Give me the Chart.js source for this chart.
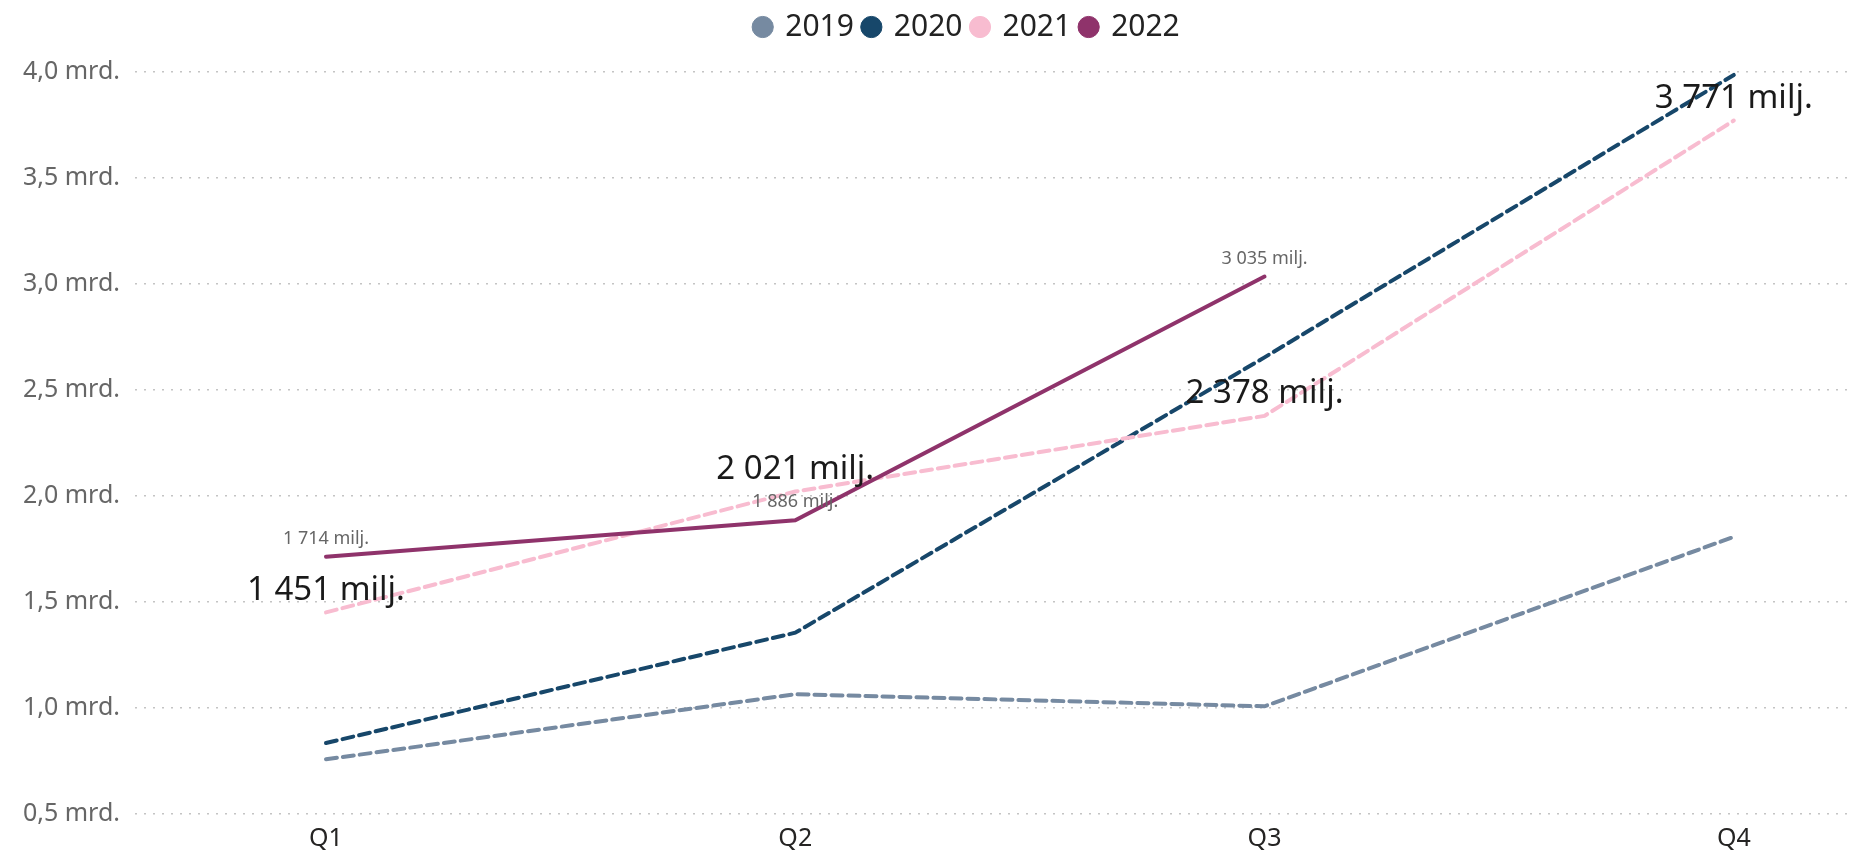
<!DOCTYPE html>
<html>
<head>
<meta charset="utf-8">
<script src="https://cdn.jsdelivr.net/npm/chart.js@4/dist/chart.umd.min.js"></script>
<style>
  html, body { margin: 0; padding: 0; background: #fff; }
  #wrap { width: 1855px; height: 856px; }
</style>
</head>
<body>
<div id="wrap"><canvas id="salesChart" width="1855" height="856"></canvas></div>
<script>
// Kvartaler og verdier (millioner)
const quarters = ['Q1', 'Q2', 'Q3', 'Q4'];
const years = ['2019', '2020', '2021', '2022'];
const values2019 = [758, 1065, 1008, 1807];
const values2020 = [835, 1355, 2654, 3986];
const values2021 = [1451, 2021, 2378, 3771];
const values2022 = [1714, 1886, 3035, null];
const yTicks = [500, 1000, 1500, 2000, 2500, 3000, 3500, 4000];

const colors = ['#768aa1', '#17476a', '#f8bcd0', '#8f336b'];
const fontName = 'Noto Sans';

const fmtMilj = v => String(Math.round(v)).replace(/\B(?=(\d{3})+(?!\d))/g, ' ') + ' milj.';
const fmtMrd = v => (v / 1000).toFixed(1).replace('.', ',') + ' mrd.';

const toPoints = arr => arr.map((v, i) => ({ x: i, y: v }));

// Etiketter for 2021 og 2022
const labelPlugin = {
  id: 'pointLabels',
  afterDatasetsDraw(chart) {
    const ctx = chart.ctx;
    const styles = {
      2: { font: '33px "' + fontName + '"', color: '#1a1a1a', offset: 22 },
      3: { font: '18px "' + fontName + '"', color: '#666', offset: 18 }
    };
    Object.keys(styles).forEach(idx => {
      const s = styles[idx];
      const meta = chart.getDatasetMeta(+idx);
      const data = chart.data.datasets[idx].data;
      ctx.save();
      ctx.font = s.font;
      ctx.fillStyle = s.color;
      ctx.textAlign = 'center';
      ctx.textBaseline = 'middle';
      meta.data.forEach((pt, i) => {
        if (data[i].y == null) return;
        ctx.fillText(fmtMilj(data[i].y), pt.x, pt.y - s.offset);
      });
      ctx.restore();
    });
  }
};

// Ekstra luft under forklaringen, og litt forskyvning mot høyre
const legendSpace = {
  id: 'legendSpace',
  beforeLayout(chart) {
    const lg = chart.legend;
    if (lg && !lg._patched) {
      const fit = lg.fit;
      lg.fit = function () { fit.call(this); this.height += 20; };
      lg._patched = true;
    }
  },
  afterLayout(chart) {
    if (chart.legend) chart.legend.left += 82;
  }
};

const ctx = document.getElementById('salesChart').getContext('2d');
new Chart(ctx, {
  type: 'line',
  data: {
    datasets: [
      { label: years[0], data: toPoints(values2019), borderColor: colors[0], backgroundColor: colors[0], borderDash: [11, 6], order: 3 },
      { label: years[1], data: toPoints(values2020), borderColor: colors[1], backgroundColor: colors[1], borderDash: [11, 6], order: 2 },
      { label: years[2], data: toPoints(values2021), borderColor: colors[2], backgroundColor: colors[2], borderDash: [11, 6], order: 1 },
      { label: years[3], data: toPoints(values2022), borderColor: colors[3], backgroundColor: colors[3], order: 0 }
    ]
  },
  options: {
    responsive: false,
    animation: false,
    layout: { padding: { left: 0, right: 2, top: 2, bottom: 0 } },
    elements: {
      line: { borderWidth: 4, tension: 0, borderCapStyle: 'round' },
      point: { radius: 0, hoverRadius: 0 }
    },
    plugins: {
      tooltip: { enabled: false },
      legend: {
        position: 'top',
        labels: {
          usePointStyle: true,
          pointStyle: 'circle',
          boxWidth: 15,
          boxHeight: 15,
          padding: 10,
          color: '#222',
          font: { family: fontName, size: 30 },
          sort: (a, b) => a.datasetIndex - b.datasetIndex
        }
      }
    },
    scales: {
      x: {
        type: 'linear',
        min: -0.407,
        max: 3.254,
        afterBuildTicks: scale => { scale.ticks = quarters.map((q, i) => ({ value: i })); },
        afterFit: scale => { scale.height = 42; },
        grid: { display: false, drawTicks: false },
        border: { display: false },
        ticks: {
          callback: v => quarters[v],
          color: '#252423',
          font: { family: fontName, size: 25 },
          padding: 10,
          maxRotation: 0
        }
      },
      y: {
        min: 500,
        max: 4000,
        afterBuildTicks: scale => { scale.ticks = yTicks.map(v => ({ value: v })); },
        afterFit: scale => { scale.width = 135; },
        border: { display: false, dash: [2, 7] },
        grid: { color: '#c4c4c4', lineWidth: 1.5, drawTicks: false },
        ticks: {
          callback: v => fmtMrd(v),
          color: '#666',
          font: { family: fontName, size: 25 },
          padding: 15
        }
      }
    }
  },
  plugins: [labelPlugin, legendSpace]
});
</script>
</body>
</html>
